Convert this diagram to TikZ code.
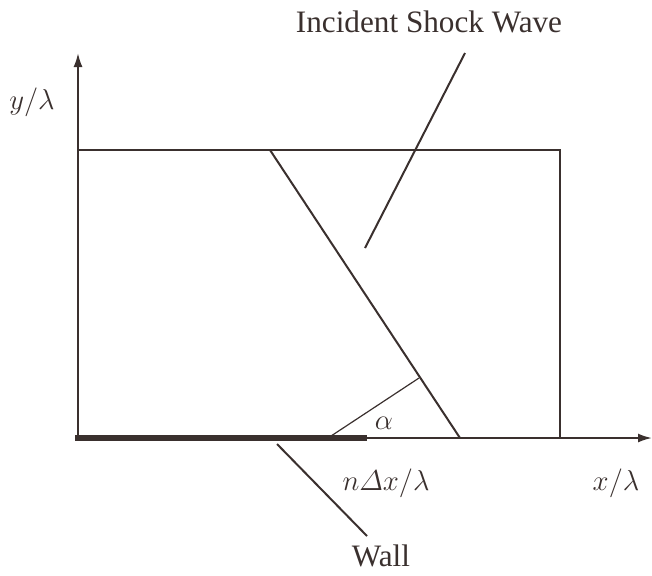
\documentclass[tikz,border=0pt]{standalone}
\usepackage{amsmath}
\usepackage{fontspec}
\setmainfont{Liberation Serif}
\definecolor{ink}{RGB}{58,48,46}
\begin{document}
\begin{tikzpicture}[x=0.5pt,y=-0.5pt,
  line/.style={draw=ink,line width=1pt},
  thin/.style={draw=ink,line width=0.6pt},
  lbl/.style={text=ink,font=\fontsize{15.6}{18}\selectfont,inner sep=0pt},
  axis/.style={draw=ink,line width=1pt,-{Latex[length=7pt,width=4.5pt]}}]
\useasboundingbox (0,0) rectangle (652,575);
\usetikzlibrary{arrows.meta}
% axes
\coordinate (O) at (78,438);
\coordinate (ytip) at (78,53);
\coordinate (xtip) at (652,438);
% rectangle corners
\coordinate (TL) at (78,150);
\coordinate (TR) at (560,150);
\coordinate (BR) at (560,438);
% shock
\coordinate (s1) at (270,150);
\coordinate (s2) at (460,438);
% alpha line
\coordinate (a1) at (328,438);
\coordinate (a2) at (419,378);
% wall
\coordinate (w1) at (75,438);
\coordinate (w2) at (367,438);
\coordinate (wl1) at (277,444);
\coordinate (wl2) at (367,536);
% shock leader
\coordinate (sl1) at (465,53);
\coordinate (sl2) at (365,248);

\path[line] (TL) -- (TR) -- (BR);
\path[line] (s1) -- (s2);
\path[thin] (a1) -- (a2);
\draw[ink,line width=3pt] (w1) -- (w2);
\path[axis] (O) -- (ytip);
\path[axis] (O) -- (xtip);
\path[line] (sl1) -- (sl2);
\path[line] (wl1) -- (wl2);

\node[lbl] (shock) at (429,22) {Incident Shock Wave};
\node[lbl] (wall) at (381,556) {Wall};
\node[lbl] (ylab) at (32,102) {$y/\lambda$};
\node[lbl] (xlab) at (616,483) {$x/\lambda$};
\node[lbl] (ndx) at (386,483) {$n\varDelta x/\lambda$};
\node[lbl] (alpha) at (384,423) {$\alpha$};
\end{tikzpicture}
\end{document}
